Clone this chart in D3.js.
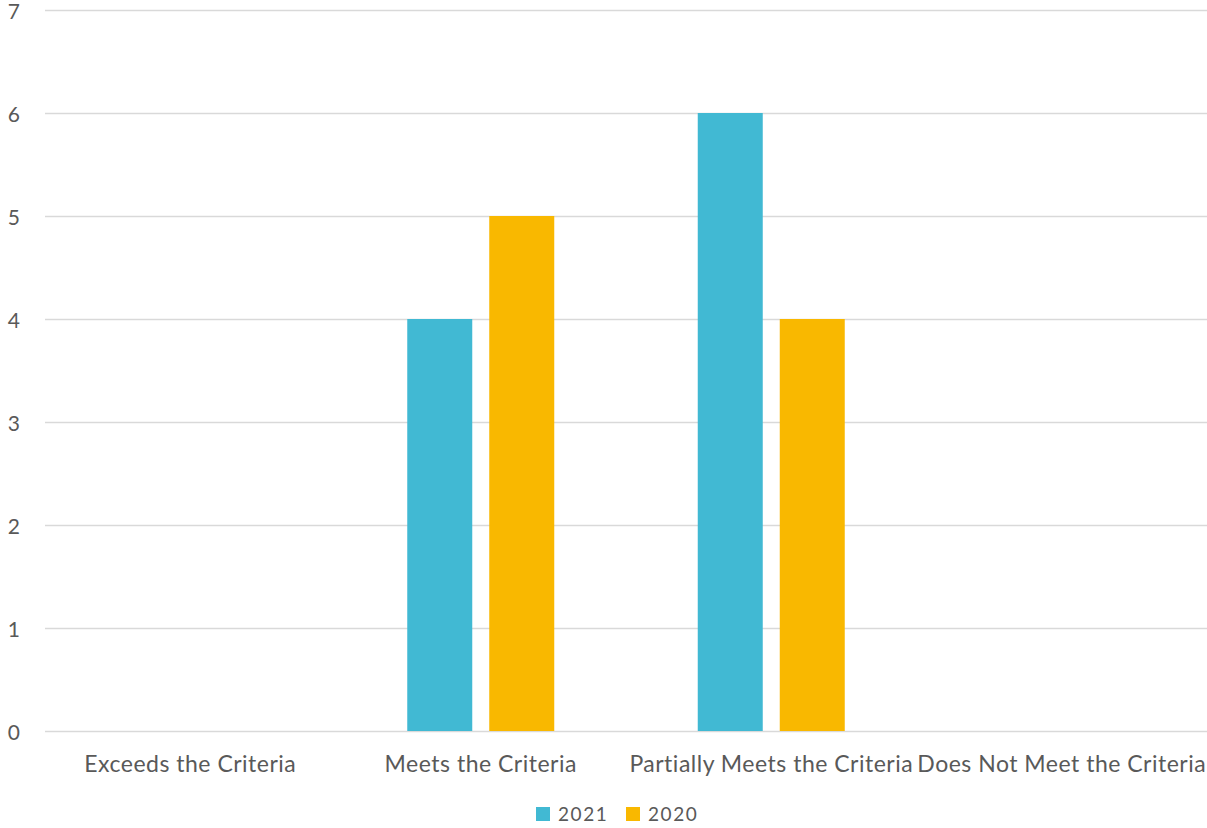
<!DOCTYPE html>
<html><head><meta charset="utf-8">
<script src="https://cdn.jsdelivr.net/npm/d3@7"></script>
<style>body{margin:0;background:#fff;} svg{display:block;}</style>
</head><body>
<svg id="c" width="1207" height="828"></svg>
<script>
const categories = ["Exceeds the Criteria", "Meets the Criteria", "Partially Meets the Criteria", "Does Not Meet the Criteria"];
const seriesNames = ["2021", "2020"];
const values2021 = [0, 4, 6, 0];
const values2020 = [0, 5, 4, 0];
const yTicks = [0, 1, 2, 3, 4, 5, 6, 7];
const colors = ["#41B9D3", "#F9B800"];

(function () {
const svg = d3.select("#c");
const font = "Lato, 'Open Sans', sans-serif";
const textColor = "#595959";
const mLeft = 45, mRight = 1207, mTop = 10, mBottom = 731;

const x0 = d3.scaleBand().domain(categories).range([mLeft, mRight]).padding(0);
const bw = x0.bandwidth();
const x1 = d3.scaleBand().domain(seriesNames).range([bw/2 - 73.5, bw/2 + 73.5]).paddingInner(0.2073).paddingOuter(0);
const y = d3.scaleLinear().domain([0, 7]).range([mBottom, mTop]);

svg.append("g").selectAll("line").data(yTicks).join("line")
  .attr("x1", mLeft).attr("x2", mRight)
  .attr("y1", d => y(d) + 0.5).attr("y2", d => y(d) + 0.5)
  .attr("stroke", "#D9D9D9").attr("stroke-width", 1.3);

svg.append("g").selectAll("text").data(yTicks).join("text")
  .attr("x", 20).attr("y", d => y(d) + 9)
  .attr("text-anchor", "end")
  .attr("font-family", font).attr("font-size", 21).attr("fill", textColor)
  .text(d => d);

const data = categories.map((c, i) => ({cat: c, vals: [values2021[i], values2020[i]]}));
const g = svg.append("g");
data.forEach(d => {
  d.vals.forEach((v, j) => {
    if (v <= 0) return;
    g.append("rect")
      .attr("x", x0(d.cat) + x1(seriesNames[j]))
      .attr("y", y(v))
      .attr("width", x1.bandwidth())
      .attr("height", y(0) - y(v))
      .attr("fill", colors[j]);
  });
});

svg.append("g").selectAll("text").data(categories).join("text")
  .attr("x", d => x0(d) + bw/2).attr("y", 772)
  .attr("text-anchor", "middle")
  .attr("font-family", font).attr("font-size", 23).attr("fill", textColor)
  .attr("letter-spacing", 0.5)
  .text(d => d);

const legend = svg.append("g");
const lx = [536, 626];
seriesNames.forEach((s, i) => {
  legend.append("rect").attr("x", lx[i]).attr("y", 807).attr("width", 14).attr("height", 14).attr("fill", colors[i]);
  legend.append("text").attr("x", lx[i] + 22).attr("y", 821)
    .attr("font-family", font).attr("font-size", 19).attr("fill", textColor)
    .attr("letter-spacing", 1.6)
    .text(s);
});
})();
</script>
</body></html>
